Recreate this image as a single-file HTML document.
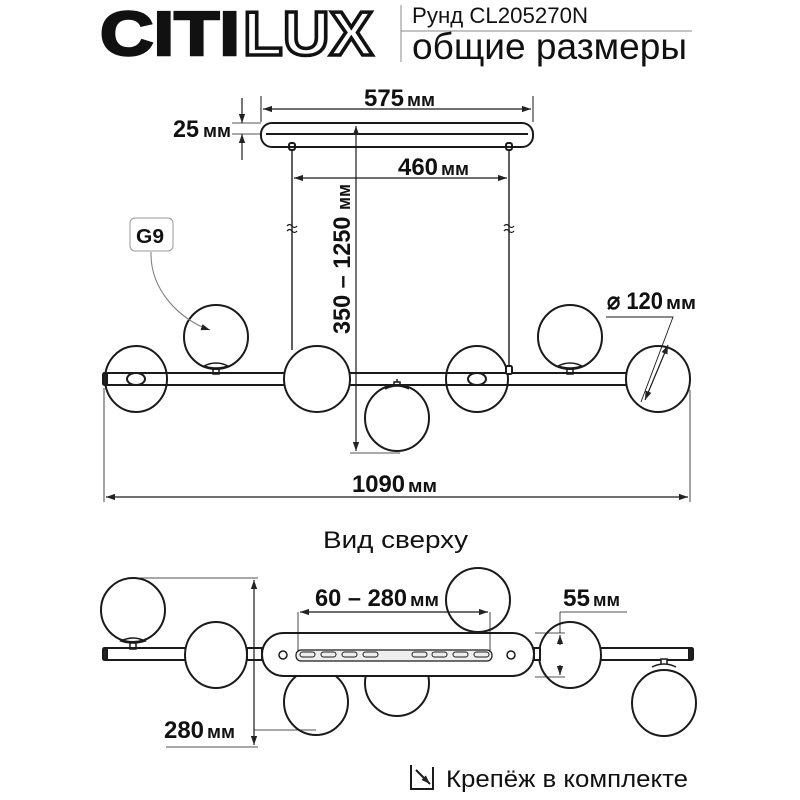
<!DOCTYPE html>
<html><head><meta charset="utf-8"><style>
html,body{margin:0;padding:0;background:#fff;}
svg{display:block;}
text{font-family:"Liberation Sans",sans-serif;fill:#111;}
</style></head><body>
<svg width="800" height="800" viewBox="0 0 800 800" xmlns="http://www.w3.org/2000/svg">
<defs>
<marker id="a" viewBox="0 0 10 10" refX="10" refY="5" markerWidth="9" markerHeight="9" orient="auto-start-reverse" markerUnits="userSpaceOnUse"><path d="M0,1.5 L10,5 L0,8.5 z" fill="#222"/></marker>
</defs>
<text x="100" y="55" font-size="62" font-weight="bold" textLength="140" lengthAdjust="spacingAndGlyphs" style="stroke:#111;stroke-width:2.5">CITI</text>
<text x="243" y="55" font-size="62" font-weight="bold" textLength="130" lengthAdjust="spacingAndGlyphs" style="fill:#fff;stroke:#111;stroke-width:3.5">LUX</text>
<line x1="401" y1="5" x2="401" y2="62" stroke="#888" stroke-width="1"/>
<line x1="401" y1="31" x2="692" y2="31" stroke="#888" stroke-width="1"/>
<text x="412" y="23" font-size="22" textLength="176" lengthAdjust="spacingAndGlyphs">Рунд CL205270N</text>
<text x="412" y="59" font-size="37" textLength="275" lengthAdjust="spacingAndGlyphs">общие размеры</text>

<g fill="none" stroke="#1a1a1a" stroke-width="2">
<rect x="261" y="123" width="272" height="24" rx="11" fill="#fff"/>
<line x1="266" y1="134" x2="528" y2="134"/>
<line x1="261" y1="96" x2="261" y2="122" stroke-width="1"/>
<line x1="533" y1="96" x2="533" y2="122" stroke-width="1"/>
<line x1="263" y1="109" x2="531" y2="109" marker-start="url(#a)" marker-end="url(#a)" stroke-width="1.2"/>
<line x1="242" y1="98" x2="242" y2="123" marker-end="url(#a)" stroke-width="1.2"/>
<line x1="242" y1="160" x2="242" y2="134" marker-end="url(#a)" stroke-width="1.2"/>
<line x1="232" y1="123" x2="261" y2="123" stroke-width="0.8"/>
<line x1="232" y1="134" x2="261" y2="134" stroke-width="0.8"/>
<rect x="289" y="143" width="6" height="7" rx="2"/>
<rect x="506" y="143" width="6" height="7" rx="2"/>
<line x1="292" y1="150" x2="292" y2="350" stroke-width="1.4"/>
<line x1="509" y1="150" x2="509" y2="365" stroke-width="1.4"/>
<path d="M287,226 q2.5,-3 5,0 t5,0 M287,231 q2.5,-3 5,0 t5,0" stroke-width="1.2"/>
<path d="M504,226 q2.5,-3 5,0 t5,0 M504,231 q2.5,-3 5,0 t5,0" stroke-width="1.2"/>
<line x1="294" y1="178" x2="507" y2="178" marker-start="url(#a)" marker-end="url(#a)" stroke-width="1.2"/>
<line x1="356" y1="126" x2="356" y2="451" marker-start="url(#a)" marker-end="url(#a)" stroke-width="1.2"/>
<line x1="350" y1="453" x2="400" y2="453" stroke-width="0.8"/>

<ellipse cx="136" cy="379" rx="31" ry="33"/>
<ellipse cx="477" cy="379" rx="31" ry="33"/>
<ellipse cx="216" cy="337" rx="32" ry="32"/>
<ellipse cx="570" cy="337" rx="32" ry="32"/>
<ellipse cx="397" cy="418" rx="32" ry="33" fill="#fff"/>
<path d="M106,373 H626 M106,385 H626" stroke-width="2"/>
<rect x="103" y="373" width="4" height="12" rx="1.5" fill="#222"/>
<ellipse cx="136" cy="379" rx="9" ry="6"/>
<ellipse cx="477" cy="379" rx="9" ry="6"/>
<rect x="506" y="366" width="6" height="8" rx="1.5" fill="#fff"/>
<path d="M204,366 q12,-6 24,0 q-12,4 -24,0z M213,368 v6 h6 v-6" stroke-width="1.5"/>
<path d="M558,366 q12,-6 24,0 q-12,4 -24,0z M567,368 v6 h6 v-6" stroke-width="1.5"/>
<path d="M385,389 q12,-6 24,0 M394,386 v-4 h6 v4 M397,382 v-3" stroke-width="1.5"/>
<ellipse cx="317" cy="379" rx="33" ry="33" fill="#fff"/>
<ellipse cx="658" cy="379" rx="32" ry="33" fill="#fff"/>
<rect x="130" y="218" width="43" height="33" rx="5" stroke="#999" stroke-width="1"/>
<path d="M151,252 C150,290 180,320 210,330" stroke="#777" stroke-width="1" marker-end="url(#a)"/>
<path d="M606,317 H673 L641,402" stroke-width="0.9"/>
<line x1="668" y1="345" x2="645" y2="400" marker-start="url(#a)" marker-end="url(#a)" stroke-width="1.2"/>
<line x1="104" y1="388" x2="104" y2="502" stroke-width="0.8"/>
<line x1="690" y1="390" x2="690" y2="502" stroke-width="0.8"/>
<line x1="106" y1="497" x2="688" y2="497" marker-start="url(#a)" marker-end="url(#a)" stroke-width="1.2"/>

<ellipse cx="133" cy="610" rx="32" ry="32"/>
<ellipse cx="316" cy="702" rx="32" ry="33"/>
<ellipse cx="397" cy="683" rx="32" ry="33"/>
<ellipse cx="478" cy="600" rx="32" ry="32"/>
<ellipse cx="664" cy="703" rx="32" ry="33"/>
<path d="M106,648 H690 M106,660 H690" stroke-width="2"/>
<rect x="103" y="648" width="4" height="12" rx="1.5" fill="#222"/>
<rect x="689" y="648" width="4" height="12" rx="1.5" fill="#222"/>
<path d="M121,641 q12,-6 24,0 q-12,4 -24,0z M130,643 v6 h6 v-6" stroke-width="1.5"/>
<path d="M652,667 q12,-6 24,0 M661,664 v-5 h6 v5" fill="#fff" stroke-width="1.5"/>
<ellipse cx="216" cy="655" rx="31" ry="33" fill="#fff"/>
<ellipse cx="570" cy="655" rx="31" ry="33" fill="#fff"/>
<rect x="262" y="633" width="272" height="43" rx="21.5" fill="#fff"/>
<rect x="247" y="648" width="15" height="12" fill="#fff"/>
<rect x="534" y="648" width="6" height="12" fill="#fff"/>
<circle cx="283" cy="655" r="4" stroke-width="1.5"/>
<circle cx="511" cy="655" r="4" stroke-width="1.5"/>
<rect x="296" y="650" width="196" height="11" rx="5" stroke-width="1.2" fill="#eee"/>
<g stroke-width="1">
<rect x="300" y="652" width="15" height="5" rx="2.5"/><rect x="321" y="652" width="15" height="5" rx="2.5"/><rect x="342" y="652" width="15" height="5" rx="2.5"/><rect x="363" y="652" width="15" height="5" rx="2.5"/>
<rect x="412" y="652" width="15" height="5" rx="2.5"/><rect x="432" y="652" width="15" height="5" rx="2.5"/><rect x="453" y="652" width="15" height="5" rx="2.5"/><rect x="474" y="652" width="15" height="5" rx="2.5"/>
</g>
<line x1="298" y1="612" x2="298" y2="652" stroke-width="0.8"/>
<line x1="490" y1="612" x2="490" y2="652" stroke-width="0.8"/>
<line x1="300" y1="612" x2="488" y2="612" marker-start="url(#a)" marker-end="url(#a)" stroke-width="1.2"/>
<path d="M560,612 H627 M535,633 H565 M535,677 H565" stroke-width="0.8"/>
<line x1="560" y1="612" x2="560" y2="633" stroke-width="0.8"/>
<line x1="560" y1="645" x2="560" y2="635" marker-end="url(#a)" stroke-width="1.2"/>
<line x1="560" y1="665" x2="560" y2="675" marker-end="url(#a)" stroke-width="1.2"/>
<path d="M140,578 H258 M254,730 H316 M166,747 H258" stroke-width="0.8"/>
<line x1="254" y1="580" x2="254" y2="745" marker-start="url(#a)" marker-end="url(#a)" stroke-width="1.2"/>
<path d="M411,765 v24 h22 v-22" stroke-width="2"/>
<line x1="416" y1="770" x2="430" y2="784" stroke-width="2" marker-end="url(#a)"/>
</g>

<g font-weight="bold">
<text x="364" y="106" font-size="24" textLength="40" lengthAdjust="spacingAndGlyphs">575</text>
<text x="407" y="106" font-size="18" textLength="28" lengthAdjust="spacingAndGlyphs">мм</text>
<text x="173" y="137" font-size="24" textLength="26" lengthAdjust="spacingAndGlyphs">25</text>
<text x="203" y="137" font-size="18" textLength="28" lengthAdjust="spacingAndGlyphs">мм</text>
<text x="398" y="175" font-size="24" textLength="40" lengthAdjust="spacingAndGlyphs">460</text>
<text x="441" y="175" font-size="18" textLength="28" lengthAdjust="spacingAndGlyphs">мм</text>
<text transform="translate(350,334) rotate(-90)" font-size="24" textLength="150" lengthAdjust="spacingAndGlyphs">350 – 1250 <tspan font-size="18">мм</tspan></text>
<text x="136" y="243" font-size="20" textLength="28" lengthAdjust="spacingAndGlyphs">G9</text>
<text x="607" y="309" font-size="24" textLength="56" lengthAdjust="spacingAndGlyphs">⌀ 120</text>
<text x="666" y="309" font-size="18" textLength="30" lengthAdjust="spacingAndGlyphs">мм</text>
<text x="352" y="492" font-size="24" textLength="53" lengthAdjust="spacingAndGlyphs">1090</text>
<text x="408" y="492" font-size="18" textLength="29" lengthAdjust="spacingAndGlyphs">мм</text>
<text x="315" y="606" font-size="24" textLength="92" lengthAdjust="spacingAndGlyphs">60 – 280</text>
<text x="410" y="606" font-size="18" textLength="29" lengthAdjust="spacingAndGlyphs">мм</text>
<text x="563" y="606" font-size="24" textLength="27" lengthAdjust="spacingAndGlyphs">55</text>
<text x="593" y="606" font-size="18" textLength="27" lengthAdjust="spacingAndGlyphs">мм</text>
<text x="164" y="738" font-size="24" textLength="40" lengthAdjust="spacingAndGlyphs">280</text>
<text x="207" y="738" font-size="18" textLength="28" lengthAdjust="spacingAndGlyphs">мм</text>
</g>
<text x="323" y="548" font-size="24" textLength="145" lengthAdjust="spacingAndGlyphs">Вид сверху</text>
<text x="446" y="787" font-size="24" textLength="242" lengthAdjust="spacingAndGlyphs">Крепёж в комплекте</text>
</svg>
</body></html>
